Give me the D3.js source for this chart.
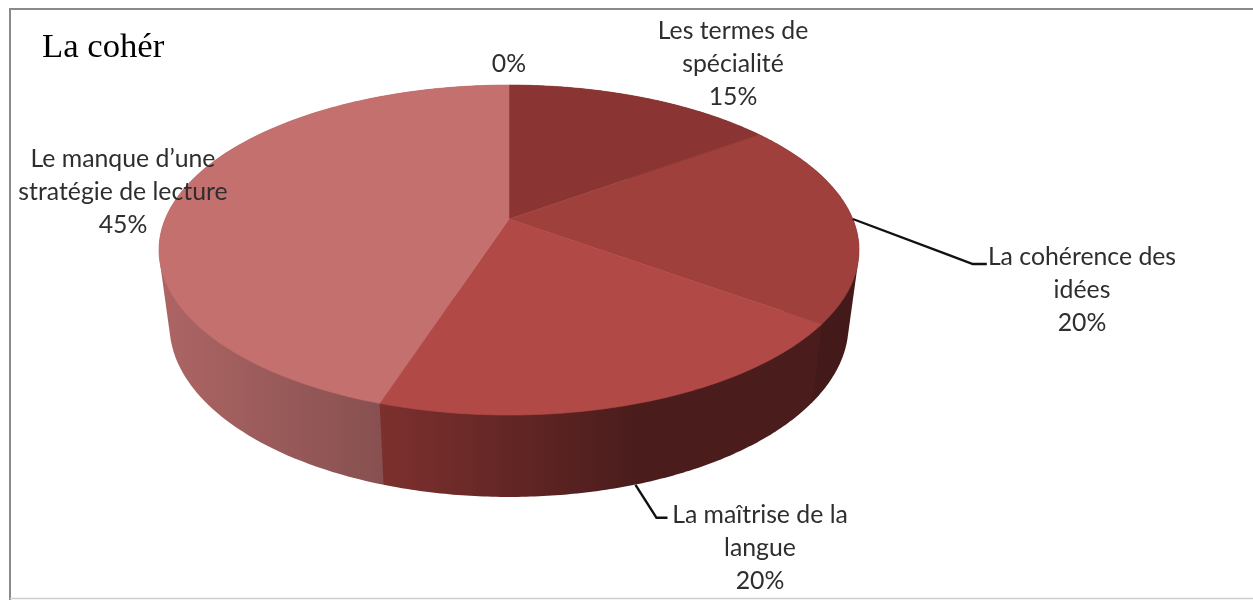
<!DOCTYPE html>
<html><head><meta charset="utf-8">
<script src="https://cdn.jsdelivr.net/npm/d3@7/dist/d3.min.js"></script>
<style>html,body{margin:0;padding:0;background:#fff;overflow:hidden}svg{display:block}</style>
</head><body><div id="c"></div>
<script>
const categories = ["Les termes de spécialité","La cohérence des idées","La maîtrise de la langue","Le manque d’une stratégie de lecture",""];
const values = [15,20,20,45,0];
const topColors = ["#8A3533","#9F403D","#B14A47","#C4706E"];
const sideFrom = ["#5c2422","#431A19","#7C302E","#AD6564"];
const sideTo = ["#5c2422","#431A19","#4A1C1C","#875050"];
const labelLines = [["Les termes de","spécialité","15%"],["La cohérence des","idées","20%"],["La maîtrise de la","langue","20%"],["Le manque d’une","stratégie de lecture","45%"],["0%"]];
const labelAt = [[733,39],[1082,265],[760,523],[123,167],[509,72]];

(function(){
const W=1253,H=600;
const svg=d3.select("#c").append("svg").attr("width",W).attr("height",H);
const defs=svg.append("defs");
defs.append("filter").attr("id","soft").append("feGaussianBlur").attr("stdDeviation",0.4);
svg.append("path").attr("d","M1253 9H10V600").attr("fill","none").attr("stroke","#8a8a8a").attr("stroke-width",2);
svg.append("path").attr("d","M10 598.5H1253").attr("fill","none").attr("stroke","#d0d0d0").attr("stroke-width",1.5);

// perspective projection of the unit disc
const cx=509, A=343.8, k=0.188, B=118, C=219;
function topPt(a){const u=Math.sin(a),v=-Math.cos(a),d=1-k*v;return [cx+A*u/d,(C+B*v)/d];}
const shrinkX=0.97, shrinkY=1.042, ellY=250, botY=325;
function botPt(a){const p=topPt(a);return [cx+shrinkX*(p[0]-cx),botY+shrinkY*(p[1]-ellY)];}
const line=d3.line();
const arcPts=(f,a0,a1)=>d3.range(0,121).map(i=>f(a0+(a1-a0)*i/120));

const arcs=d3.pie().sort(null).value(d=>d)(values);

// sides, rear first
const g=svg.append("g");
[0,1,3,2].forEach(i=>{
  const s=arcs[i]; const t=arcPts(topPt,s.startAngle,s.endAngle), b=arcPts(botPt,s.startAngle,s.endAngle);
  const x0=i===3?160:(i===2?384:700), x1=i===3?384:(i===2?640:860);
  const id="side"+i;
  const gr=defs.append("linearGradient").attr("id",id).attr("gradientUnits","userSpaceOnUse").attr("x1",x0).attr("x2",x1).attr("y1",0).attr("y2",0);
  gr.append("stop").attr("offset",0).attr("stop-color",sideFrom[i]);
  gr.append("stop").attr("offset",1).attr("stop-color",sideTo[i]);
  g.append("path").attr("d",line(d3.polygonHull(t.concat(b)))+"Z").attr("fill",`url(#${id})`);
});
// top faces
arcs.forEach((s,i)=>{
  if(s.value===0) return;
  g.append("path").attr("d",line([[cx,C]].concat(arcPts(topPt,s.startAngle,s.endAngle)))+"Z")
    .attr("fill",topColors[i]).attr("stroke",topColors[i]).attr("stroke-width",0.6);
});

// leaders
const lead=(p,q,r)=>svg.append("path").attr("d",line([p,q,r])).attr("fill","none").attr("stroke","#111").attr("stroke-width",2.4);
const mid=s=>(s.startAngle+s.endAngle)/2;
const p1=topPt(mid(arcs[1])), p2=botPt(mid(arcs[2]));
lead([p1[0],p1[1]],[p1[0]+120,p1[1]+45],[p1[0]+134,p1[1]+45]);
lead([p2[0]+1,p2[1]],[p2[0]+22,p2[1]+33],[p2[0]+33,p2[1]+33]);

// labels
labelLines.forEach((ls,i)=>{
  const t=svg.append("text").attr("text-anchor","middle").attr("font-family","Lato, 'Open Sans', sans-serif").attr("font-size",24.8).attr("fill","#2e2e2e").attr("filter","url(#soft)");
  ls.forEach((l,j)=>t.append("tspan").attr("x",labelAt[i][0]).attr("y",labelAt[i][1]+33*j).text(l));
});
svg.append("text").attr("x",42).attr("y",57).attr("font-family","'Liberation Serif', serif").attr("font-size",34.7).attr("fill","#000").attr("filter","url(#soft)").text("La cohér");
})();
</script></body></html>
